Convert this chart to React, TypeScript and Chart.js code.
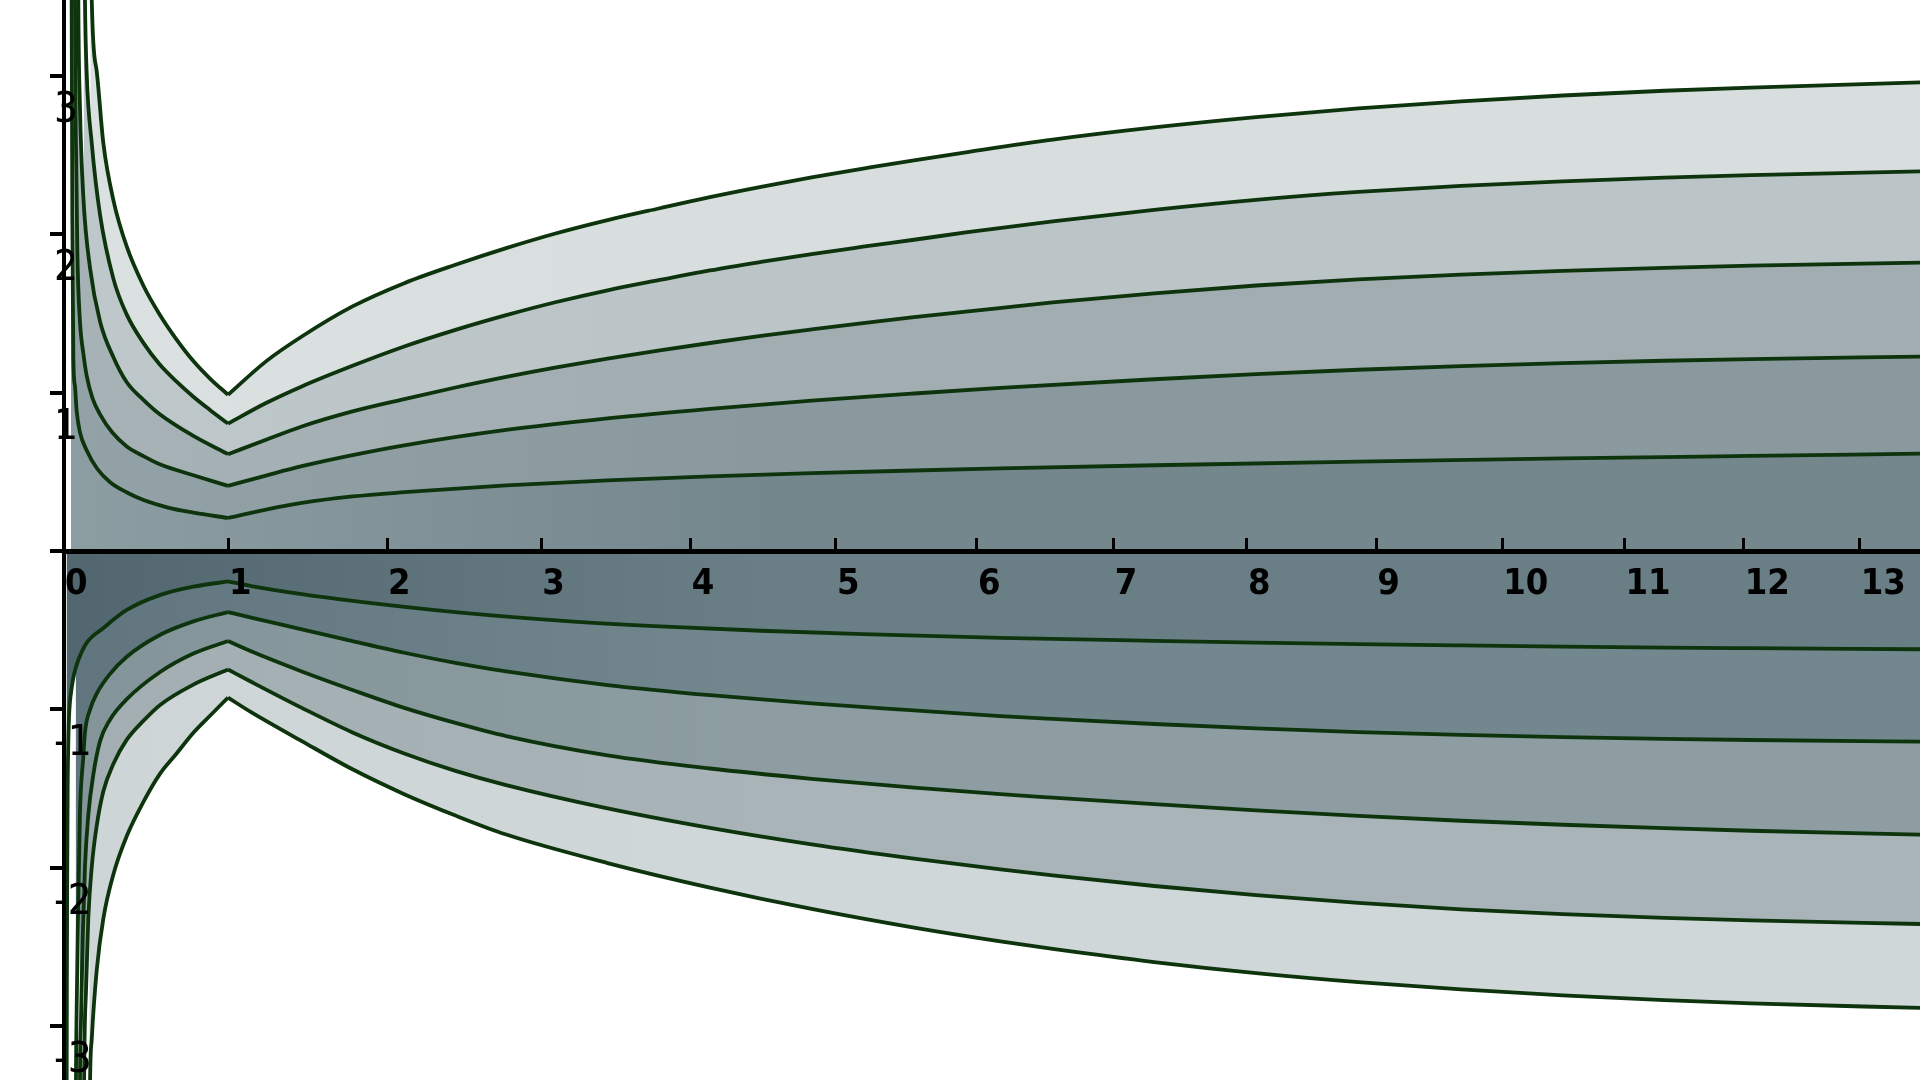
import React, { useEffect, useRef } from 'react';
import { Chart, registerables, LinearScale } from 'chart.js';

Chart.register(...registerables);

// perspective foreshortening of the x axis (tick spacing shrinks to the right)
const PERSPECTIVE = 0.01588;

class PerspectiveScale extends LinearScale {
  static id = 'perspective';
  static defaults = LinearScale.defaults;
  warp(v: number) {
    return v / (1 + PERSPECTIVE * v);
  }
  getPixelForValue(value: number) {
    const a = this.warp(this.min);
    const b = this.warp(this.max);
    return this.getPixelForDecimal((this.warp(value) - a) / (b - a));
  }
  getValueForPixel(pixel: number) {
    const a = this.warp(this.min);
    const b = this.warp(this.max);
    const w = a + this.getDecimalForPixel(pixel) * (b - a);
    return w / (1 - PERSPECTIVE * w);
  }
}
Chart.register(PerspectiveScale);

const xTicks = [0, 1, 2, 3, 4, 5, 6, 7, 8, 9, 10, 11, 12, 13];
const yTicks = [-3, -2, -1, 0, 1, 2, 3];
const CUSP_X = 1.0;

// upper curves (innermost to outermost)
const upper1X = [0.042, 0.046, 0.05, 0.056, 0.066, 0.076, 0.096, 0.136, 0.2, 0.278, 0.38, 0.481, 0.63, 0.786, 1.0, 1.236, 1.46, 1.78, 2.11, 2.77, 3.44, 4.13, 4.83, 5.55, 6.17, 7.3, 8.86, 10.49, 12.06, 13.53];
const upper1Y = [4.5, 3.48, 2.12, 1.22, 1.04, 0.885, 0.75, 0.637, 0.52, 0.435, 0.37, 0.322, 0.275, 0.243, 0.209, 0.262, 0.304, 0.345, 0.372, 0.415, 0.447, 0.472, 0.492, 0.509, 0.522, 0.542, 0.565, 0.585, 0.601, 0.615];

const upper2X = [0.062, 0.066, 0.072, 0.08, 0.096, 0.116, 0.136, 0.17, 0.217, 0.29, 0.379, 0.48, 0.58, 0.786, 1.0, 1.236, 1.46, 1.78, 2.11, 2.77, 3.44, 4.13, 4.83, 5.55, 6.17, 7.3, 8.07, 8.86, 9.67, 10.49, 11.33, 12.06, 13.53];
const upper2Y = [4.5, 3.48, 2.575, 1.899, 1.45, 1.25, 1.11, 0.97, 0.863, 0.75, 0.661, 0.6, 0.548, 0.479, 0.412, 0.477, 0.536, 0.606, 0.668, 0.765, 0.838, 0.898, 0.95, 0.995, 1.03, 1.085, 1.117, 1.145, 1.168, 1.187, 1.202, 1.212, 1.228];

const upper3X = [0.082, 0.086, 0.096, 0.116, 0.157, 0.217, 0.298, 0.379, 0.48, 0.58, 0.786, 1.0, 1.236, 1.46, 1.78, 2.11, 2.44, 2.77, 3.1, 3.44, 3.79, 4.13, 4.48, 4.83, 5.19, 5.55, 5.92, 6.55, 7.3, 8.07, 8.86, 9.67, 10.49, 11.33, 12.06, 13.53];
const upper3Y = [4.5, 3.48, 2.8, 2.24, 1.785, 1.45, 1.224, 1.066, 0.955, 0.864, 0.727, 0.612, 0.703, 0.787, 0.882, 0.96, 1.033, 1.1, 1.16, 1.215, 1.267, 1.314, 1.359, 1.4, 1.44, 1.477, 1.512, 1.57, 1.627, 1.677, 1.716, 1.746, 1.77, 1.789, 1.802, 1.822];

const upper4X = [0.118, 0.126, 0.136, 0.167, 0.217, 0.298, 0.379, 0.481, 0.58, 0.683, 0.786, 0.89, 1.0, 1.236, 1.46, 1.78, 2.11, 2.44, 2.77, 3.1, 3.44, 3.79, 4.13, 4.48, 4.83, 5.19, 5.55, 5.92, 6.55, 7.3, 8.07, 8.86, 9.67, 10.49, 11.33, 12.06, 13.53];
const upper4Y = [4.5, 3.48, 3.03, 2.575, 2.124, 1.719, 1.493, 1.313, 1.178, 1.07, 0.975, 0.89, 0.805, 0.935, 1.04, 1.17, 1.292, 1.397, 1.49, 1.573, 1.647, 1.712, 1.772, 1.826, 1.876, 1.922, 1.966, 2.012, 2.082, 2.155, 2.218, 2.268, 2.306, 2.335, 2.358, 2.374, 2.398];

const upper5X = [0.158, 0.167, 0.197, 0.237, 0.298, 0.379, 0.481, 0.58, 0.683, 0.786, 0.89, 1.0, 1.236, 1.46, 1.78, 2.11, 2.44, 2.77, 3.1, 3.44, 3.79, 4.13, 4.48, 4.83, 5.19, 5.55, 5.92, 6.55, 7.3, 8.07, 8.86, 9.67, 10.49, 11.33, 12.06, 13.53];
const upper5Y = [4.5, 3.48, 3.03, 2.575, 2.215, 1.922, 1.674, 1.493, 1.336, 1.2, 1.088, 0.987, 1.198, 1.355, 1.545, 1.692, 1.808, 1.913, 2.007, 2.09, 2.165, 2.235, 2.3, 2.36, 2.415, 2.468, 2.518, 2.598, 2.675, 2.74, 2.795, 2.84, 2.877, 2.907, 2.927, 2.96];

// lower curves (innermost to outermost)
const lower1X = [0.015, 0.016, 0.017, 0.019, 0.022, 0.026, 0.03, 0.036, 0.046, 0.056, 0.07, 0.086, 0.136, 0.237, 0.379, 0.58, 0.786, 1.0, 1.143, 1.46, 1.78, 2.44, 3.1, 3.79, 4.48, 5.19, 6.17, 7.3, 8.07, 8.86, 9.67, 10.49, 11.33, 12.06, 13.53];
const lower1Y = [-4.0, -3.34, -2.8, -2.1, -1.5, -1.2, -1.05, -0.95, -0.865, -0.8, -0.74, -0.688, -0.58, -0.486, -0.372, -0.278, -0.225, -0.191, -0.221, -0.272, -0.314, -0.385, -0.437, -0.475, -0.503, -0.525, -0.548, -0.567, -0.578, -0.588, -0.596, -0.603, -0.609, -0.613, -0.62];

const lower2X = [0.07, 0.072, 0.076, 0.086, 0.096, 0.116, 0.126, 0.157, 0.197, 0.278, 0.379, 0.58, 0.786, 1.0, 1.143, 1.46, 1.78, 2.11, 2.44, 2.77, 3.44, 4.13, 4.83, 5.55, 6.17, 6.55, 7.3, 8.07, 8.86, 9.67, 10.49, 11.33, 12.06, 13.53];
const lower2Y = [-4.0, -3.34, -2.9, -2.2, -1.65, -1.3, -1.146, -1.0, -0.9, -0.775, -0.667, -0.53, -0.444, -0.385, -0.42, -0.494, -0.569, -0.642, -0.706, -0.76, -0.846, -0.91, -0.962, -1.006, -1.042, -1.06, -1.092, -1.12, -1.143, -1.161, -1.175, -1.186, -1.193, -1.203];

const lower3X = [0.094, 0.096, 0.102, 0.113, 0.126, 0.146, 0.177, 0.217, 0.278, 0.379, 0.58, 0.786, 1.0, 1.143, 1.46, 1.78, 2.11, 2.44, 2.77, 3.44, 4.13, 4.83, 5.55, 6.17, 6.55, 7.3, 8.07, 8.86, 9.67, 10.49, 11.33, 12.06, 13.53];
const lower3Y = [-4.0, -3.34, -2.97, -2.43, -1.994, -1.669, -1.408, -1.2, -1.063, -0.935, -0.765, -0.647, -0.568, -0.633, -0.76, -0.877, -0.99, -1.085, -1.168, -1.29, -1.373, -1.438, -1.494, -1.535, -1.557, -1.598, -1.637, -1.672, -1.703, -1.728, -1.75, -1.766, -1.79];

const lower4X = [0.118, 0.121, 0.133, 0.146, 0.167, 0.197, 0.237, 0.298, 0.379, 0.481, 0.58, 0.786, 1.0, 1.143, 1.46, 1.78, 2.11, 2.44, 2.77, 3.44, 4.13, 4.83, 5.55, 6.17, 6.55, 7.3, 8.07, 8.86, 9.67, 10.49, 11.33, 12.06, 13.53];
const lower4Y = [-4.0, -3.34, -2.755, -2.32, -1.994, -1.734, -1.517, -1.343, -1.191, -1.071, -0.973, -0.843, -0.748, -0.825, -0.99, -1.145, -1.278, -1.388, -1.478, -1.625, -1.748, -1.852, -1.942, -2.01, -2.048, -2.115, -2.173, -2.222, -2.262, -2.292, -2.316, -2.332, -2.355];

const lower5X = [0.152, 0.157, 0.167, 0.197, 0.237, 0.298, 0.379, 0.481, 0.58, 0.683, 0.786, 0.89, 1.0, 1.143, 1.46, 1.78, 2.11, 2.44, 2.77, 3.44, 4.13, 4.83, 5.55, 6.17, 6.55, 7.3, 8.07, 8.86, 9.67, 10.49, 11.33, 12.06, 13.53];
const lower5Y = [-4.0, -3.34, -3.08, -2.646, -2.32, -2.04, -1.799, -1.582, -1.408, -1.278, -1.147, -1.038, -0.925, -1.017, -1.2, -1.378, -1.535, -1.67, -1.79, -1.97, -2.125, -2.26, -2.378, -2.465, -2.512, -2.595, -2.665, -2.722, -2.768, -2.805, -2.835, -2.856, -2.885];

const upperSeries = [
  [upper1X, upper1Y],
  [upper2X, upper2Y],
  [upper3X, upper3Y],
  [upper4X, upper4Y],
  [upper5X, upper5Y],
];
const lowerSeries = [
  [lower1X, lower1Y],
  [lower2X, lower2Y],
  [lower3X, lower3Y],
  [lower4X, lower4Y],
  [lower5X, lower5Y],
];

// band colours: [left, right] of a horizontal gradient
const upperFills = [
  ['#8d9ea3', '#74878d'],
  ['#93a2a7', '#8a999e'],
  ['#a6b2b5', '#a1adb0'],
  ['#bec7c9', '#bbc4c6'],
  ['#dbe1e1', '#d8dede'],
];
const lowerFills = [
  ['#51666e', '#6a7e86'],
  ['#60757d', '#73878f'],
  ['#83959a', '#8d9da2'],
  ['#a2aeb2', '#a8b4b7'],
  ['#ced5d6', '#d0d7d8'],
];
const LINE_COLOR = '#0d340d';

const X_MIN = 0;
const X_MAX = 13.53;
const Y_MIN = -3.34;
const Y_MAX = 3.48;

const TICK_FONT = "'DejaVu Sans Condensed', 'Liberation Sans', sans-serif";

function points(xs: number[], ys: number[]) {
  return xs.map((x, i) => ({ x, y: ys[i] }));
}

function branch(xs: number[], ys: number[], left: boolean) {
  const pts: { x: number; y: number }[] = [];
  xs.forEach((x, i) => {
    if (left ? x <= CUSP_X : x >= CUSP_X) pts.push({ x, y: ys[i] });
  });
  return pts;
}

function gradientFill(pair: string[]) {
  return (ctx: any) => {
    const area = ctx.chart.chartArea;
    if (!area) return pair[1];
    const g = ctx.chart.ctx.createLinearGradient(area.left, 0, area.left + 700, 0);
    g.addColorStop(0, pair[0]);
    g.addColorStop(1, pair[1]);
    return g;
  };
}

export default function App() {
  const canvasRef = useRef<HTMLCanvasElement | null>(null);

  useEffect(() => {
    const canvas = canvasRef.current;
    if (!canvas) return;

    const datasets: any[] = [];
    // filled bands (polylines through the read points, no stroke), drawn beneath
    const addFills = (series: number[][][], fills: string[][], name: string) => {
      series.forEach(([xs, ys], i) => {
        datasets.push({
          label: name + 'Band' + (i + 1),
          data: points(xs, ys),
          borderWidth: 0,
          borderColor: 'rgba(0,0,0,0)',
          backgroundColor: gradientFill(fills[i]),
          fill: i === 0 ? 'origin' : '-1',
          pointRadius: 0,
          tension: 0,
          order: 10,
        });
      });
    };
    addFills(upperSeries, upperFills, 'upper');
    addFills(lowerSeries, lowerFills, 'lower');

    // smooth curves, split at the cusp so the corner stays sharp, drawn on top
    const addLines = (series: number[][][], name: string) => {
      series.forEach(([xs, ys], i) => {
        [true, false].forEach((left) => {
          datasets.push({
            label: name + (i + 1) + (left ? 'L' : 'R'),
            data: branch(xs, ys, left),
            borderColor: LINE_COLOR,
            borderWidth: 3.8,
            fill: false,
            pointRadius: 0,
            cubicInterpolationMode: 'monotone',
            order: 0,
          });
        });
      });
    };
    addLines(upperSeries, 'upper');
    addLines(lowerSeries, 'lower');

    const zeroPad = (s: any) => {
      s.paddingLeft = 0;
      s.paddingRight = 0;
      s.paddingTop = 0;
      s.paddingBottom = 0;
    };

    const chart = new Chart(canvas, {
      type: 'line',
      data: { datasets },
      options: {
        animation: false,
        responsive: false,
        devicePixelRatio: 1,
        layout: { padding: { left: 50, right: 0, top: 0, bottom: 0 } },
        plugins: {
          legend: { display: false },
          tooltip: { enabled: false },
        },
        scales: {
          x: {
            type: 'perspective' as any,
            min: X_MIN,
            max: X_MAX,
            position: { y: 0 } as any,
            afterBuildTicks: (s: any) => {
              s.ticks = xTicks.map((v) => ({ value: v }));
            },
            afterFit: zeroPad,
            grid: {
              drawOnChartArea: false,
              drawTicks: true,
              tickLength: -16,
              lineWidth: 3,
              color: '#000',
              z: 2,
            },
            border: { display: true, color: '#000', width: 5, z: 2 },
            ticks: {
              autoSkip: false,
              maxRotation: 0,
              align: 'start',
              labelOffset: 1,
              padding: 28,
              color: '#000',
              z: 3,
              font: { family: TICK_FONT, weight: 'bold', size: 36 },
              callback: (v: any) => String(v),
            },
          } as any,
          y: {
            type: 'linear',
            min: Y_MIN,
            max: Y_MAX,
            position: 'left',
            afterBuildTicks: (s: any) => {
              s.ticks = yTicks.map((v) => ({ value: v }));
            },
            afterFit: (s: any) => {
              zeroPad(s);
              s.width = 14;
            },
            grid: {
              drawOnChartArea: false,
              drawTicks: true,
              tickLength: 14,
              lineWidth: 4,
              color: '#000',
              z: 2,
            },
            border: { display: true, color: '#000', width: 4, z: 2 },
            ticks: {
              mirror: true,
              padding: -10,
              labelOffset: 35,
              color: '#000',
              z: 3,
              font: { family: TICK_FONT, size: 42 },
              callback: (v: any) => (v === 0 ? '' : String(v)),
            },
          } as any,
        },
      },
    });

    return () => {
      chart.destroy();
    };
  }, []);

  return (
    <div style={{ position: 'fixed', left: 0, top: 0, width: 1920, height: 1080, background: '#fff' }}>
      <canvas ref={canvasRef} width={1920} height={1080} style={{ display: 'block' }} />
    </div>
  );
}
